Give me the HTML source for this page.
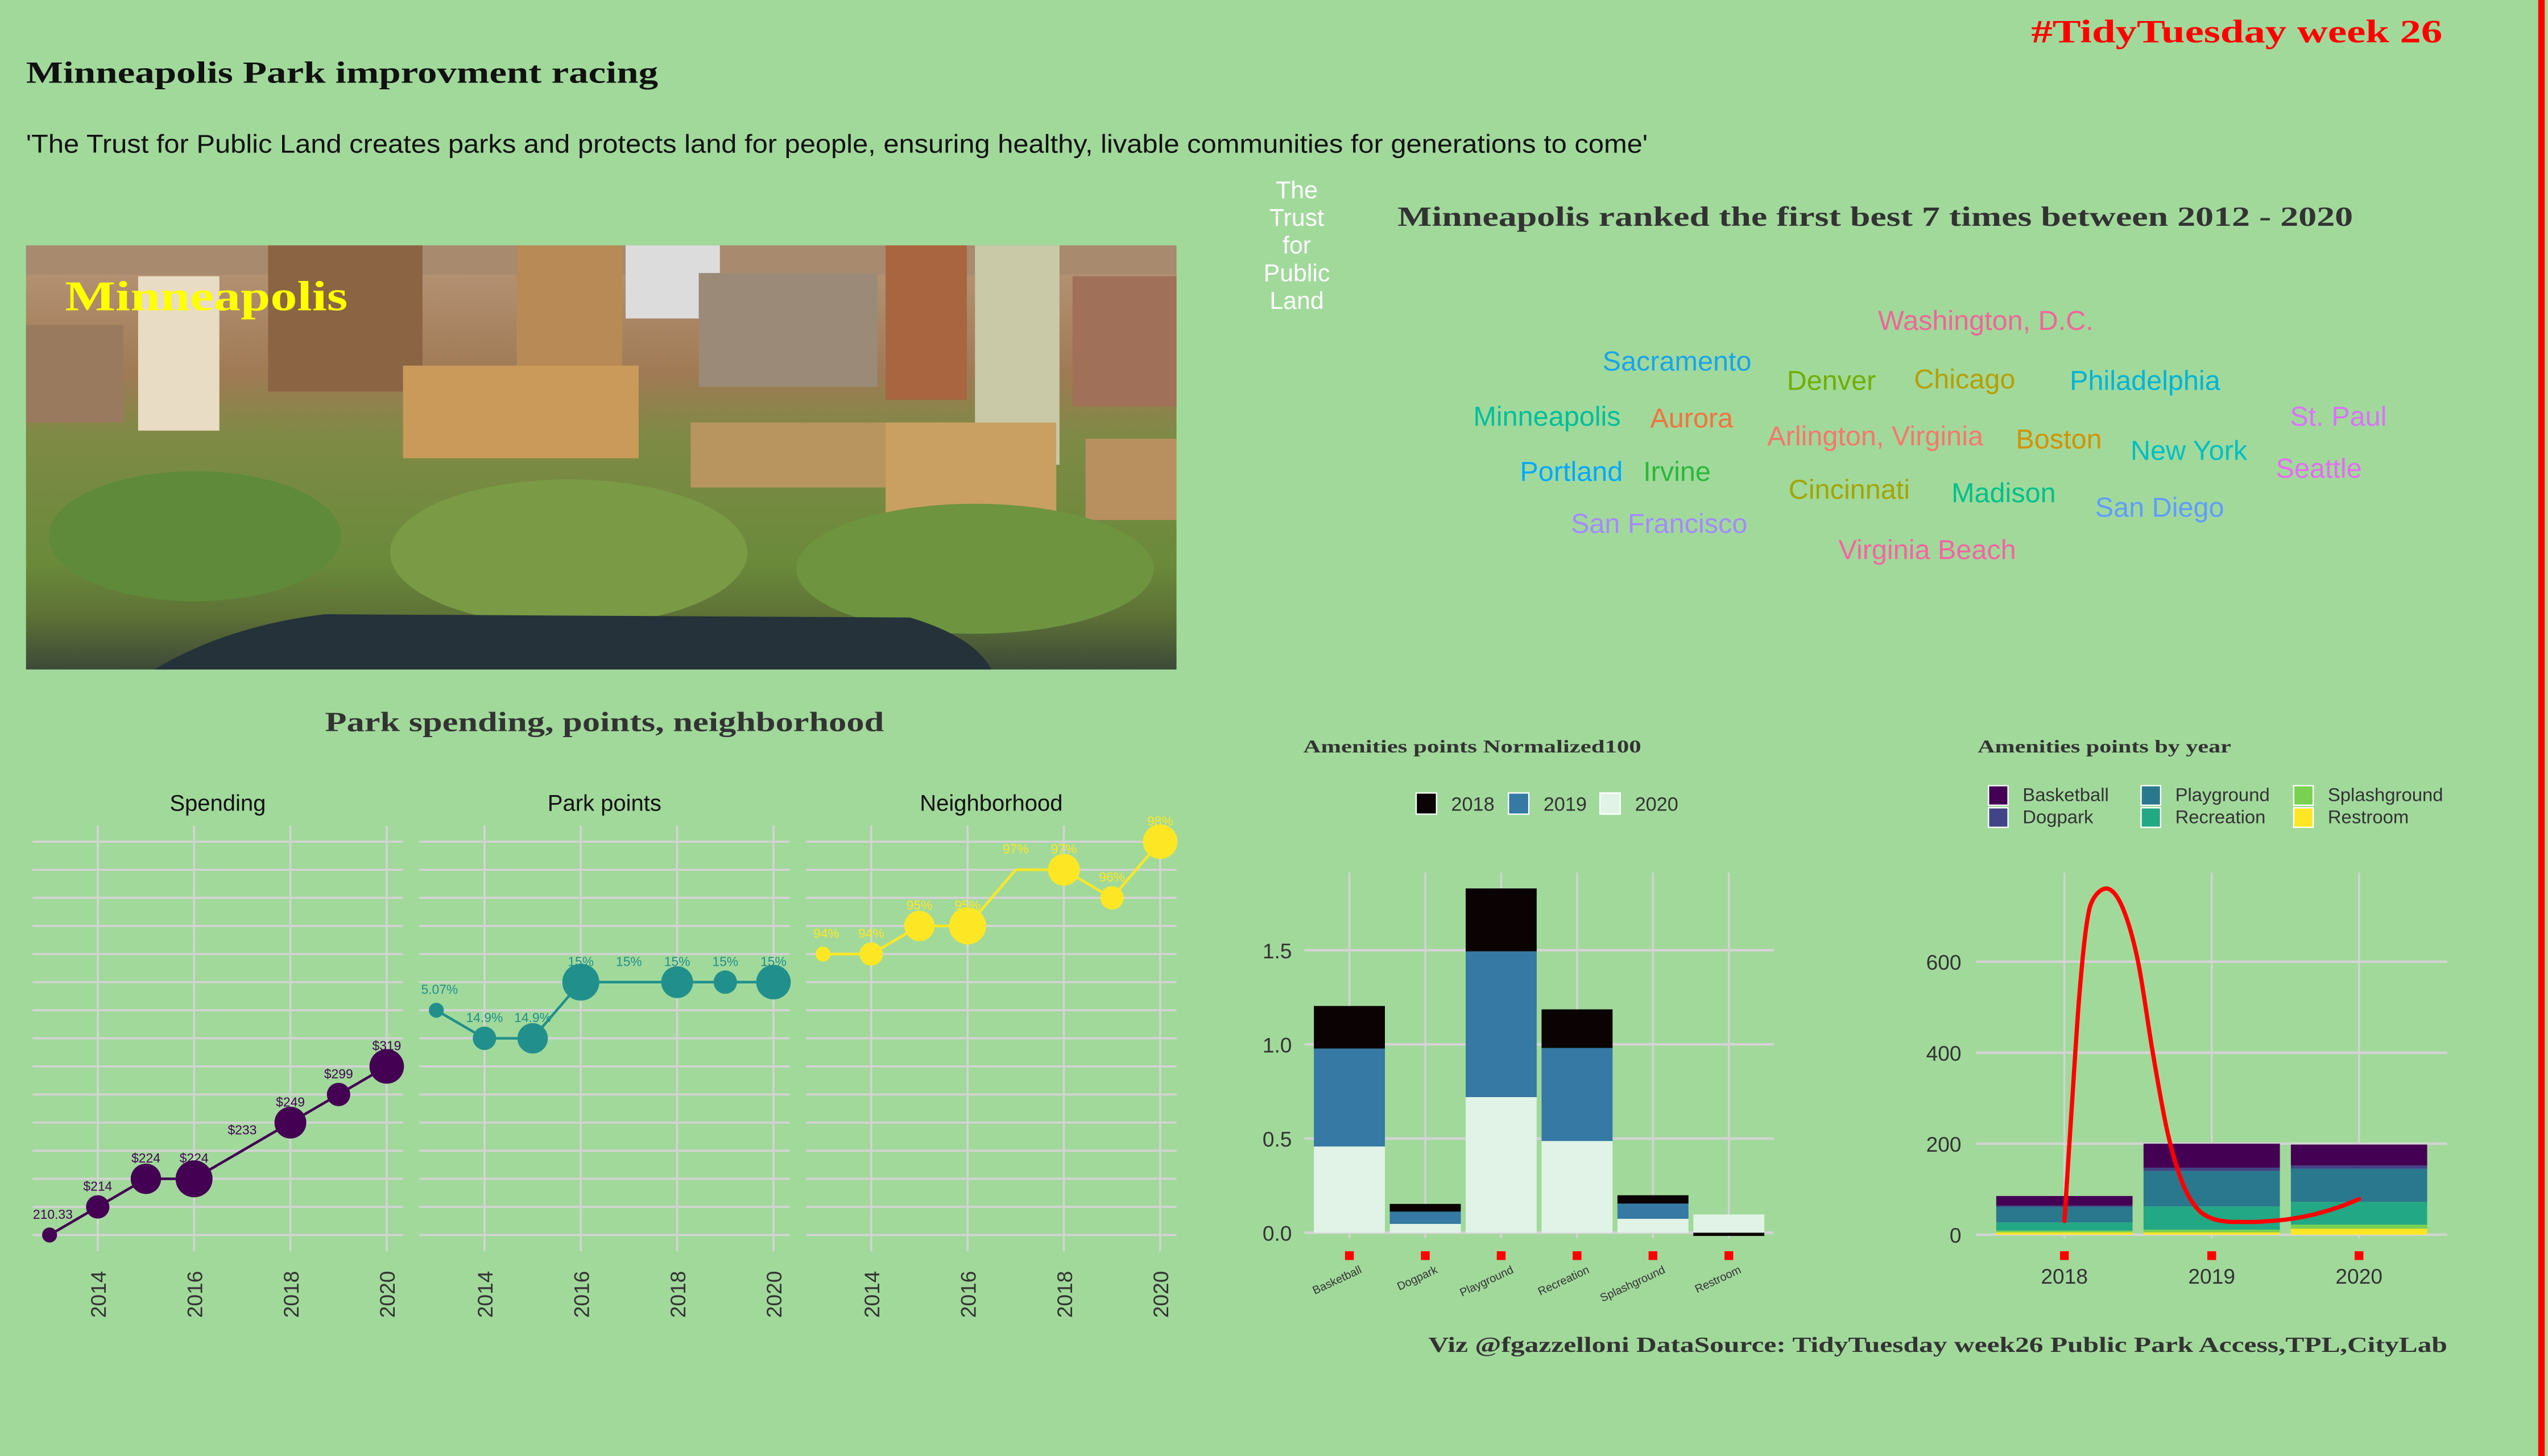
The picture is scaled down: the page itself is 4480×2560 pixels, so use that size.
<!DOCTYPE html>
<html><head><meta charset="utf-8">
<style>
html,body{margin:0;padding:0;background:#A1D99B;}
svg{display:block;}
.ser{font-family:"Liberation Serif",serif;font-weight:bold;}
.sans{font-family:"Liberation Sans",sans-serif;}
.nar{font-family:"Liberation Sans Narrow","Liberation Sans",sans-serif;}
</style></head>
<body>
<svg id="root" xmlns="http://www.w3.org/2000/svg" width="4480" height="2560" viewBox="0 0 1568 896">
<defs>
<linearGradient id="photoGrad" x1="0" y1="0" x2="0" y2="1">
<stop offset="0" stop-color="#b8977a"/><stop offset="0.3" stop-color="#a07a55"/>
<stop offset="0.45" stop-color="#7e8a45"/><stop offset="0.75" stop-color="#6a8a3a"/>
<stop offset="0.87" stop-color="#5e7236"/><stop offset="1" stop-color="#3d4a38"/>
</linearGradient>
</defs>
<rect x="0" y="0" width="1568" height="896" fill="#A1D99B"/>
<rect x="1562" y="0" width="4" height="896" fill="#FF0000"/>
<text class="ser" x="1250" y="26" textLength="253" lengthAdjust="spacingAndGlyphs" font-size="20" fill="#FF0000">#TidyTuesday week 26</text>
<text class="ser" x="16" y="51" textLength="389" lengthAdjust="spacingAndGlyphs" font-size="19" fill="#111">Minneapolis Park improvment racing</text>
<text class="sans" x="16" y="94" textLength="998" lengthAdjust="spacingAndGlyphs" font-size="16" fill="#111">'The Trust for Public Land creates parks and protects land for people, ensuring healthy, livable communities for generations to come'</text>

<g>
<rect x="16" y="151" width="708" height="261" fill="url(#photoGrad)"/>
<rect x="16" y="151" width="708" height="18" fill="#a88a6e"/>
<rect x="85" y="170" width="50" height="95" fill="#e8dcc4"/>
<rect x="165" y="151" width="95" height="90" fill="#8a6443"/>
<rect x="318" y="151" width="65" height="80" fill="#b88a55"/>
<rect x="385" y="151" width="58" height="45" fill="#dcdcdc"/>
<rect x="430" y="168" width="110" height="70" fill="#9c8a78"/>
<rect x="248" y="225" width="145" height="57" fill="#c99a5a"/>
<rect x="545" y="151" width="50" height="95" fill="#a8653f"/>
<rect x="600" y="151" width="52" height="135" fill="#c9c9a8"/>
<rect x="425" y="260" width="120" height="40" fill="#b8955e"/>
<rect x="545" y="260" width="105" height="60" fill="#c9a062"/>
<rect x="16" y="200" width="60" height="60" fill="#9a7a5e"/>
<rect x="660" y="170" width="64" height="80" fill="#a07058"/>
<rect x="668" y="270" width="56" height="50" fill="#b89060"/>
<ellipse cx="120" cy="330" rx="90" ry="40" fill="#5e8a3a"/>
<ellipse cx="350" cy="340" rx="110" ry="45" fill="#7a9a45"/>
<ellipse cx="600" cy="350" rx="110" ry="40" fill="#6e9440"/>
<path d="M95,412 Q140,385 200,378 L560,380 Q600,392 610,412 Z" fill="#25323a"/>
<text class="ser" x="40" y="191" textLength="174" lengthAdjust="spacingAndGlyphs" font-size="26" fill="#FFFF00">Minneapolis</text>
</g>

<g class="sans" font-size="15" fill="#fff" text-anchor="middle">
<text x="798" y="122">The</text><text x="798" y="139">Trust</text><text x="798" y="156">for</text><text x="798" y="173">Public</text><text x="798" y="190">Land</text>
</g>
<text class="ser" x="860" y="139" textLength="588" lengthAdjust="spacingAndGlyphs" font-size="17" fill="#333">Minneapolis ranked the first best 7 times between 2012 - 2020</text>
<g id="cloud"></g>

<text class="ser" x="200" y="450" textLength="344" lengthAdjust="spacingAndGlyphs" font-size="17" fill="#333">Park spending, points, neighborhood</text>
<g id="multi"></g>

<text class="ser" x="802" y="463" textLength="208" lengthAdjust="spacingAndGlyphs" font-size="11" fill="#333">Amenities points Normalized100</text>
<g id="bars"></g>

<text class="ser" x="1217" y="463" textLength="156" lengthAdjust="spacingAndGlyphs" font-size="11" fill="#333">Amenities points by year</text>
<g id="stack"></g>

<text class="ser" x="879" y="832" textLength="627" lengthAdjust="spacingAndGlyphs" font-size="13.5" fill="#333">Viz @fgazzelloni DataSource: TidyTuesday week26 Public Park Access,TPL,CityLab</text>
</svg>
<script>
// ---------- word cloud data ----------
const cloudWords = ["Washington, D.C.","Sacramento","Denver","Chicago","Philadelphia","Minneapolis","Aurora","Arlington, Virginia","Boston","New York","St. Paul","Portland","Irvine","Cincinnati","Madison","Seattle","San Diego","San Francisco","Virginia Beach"];
const cloudX = [1222,1032,1127,1209,1320,952,1041,1154,1267,1347,1439,967,1032,1138,1233,1427,1329,1021,1186];
const cloudY = [197,222,234,233,234,256,257,268,270,277,256,290,290,301,303,288,312,322,338];
const cloudColors = ["#F0659A","#1AA5E8","#6FAF00","#B79F00","#00B4D8","#00BE9C","#F2733E","#F8766D","#D39200","#00BFC4","#DB72FB","#00A9FF","#2CB73C","#A3A500","#00C08B","#E76BF3","#619CFF","#A58AFF","#F564A3"];

// ---------- small multiples data ----------
const years = [2013,2014,2015,2016,2017,2018,2019,2020];
const levels = ["210.33","$214","$224","$233","$249","$299","$319","14.9%","5.07%","15%","94%","95%","96%","97%","98%"];
const spending = ["210.33","$214","$224","$224","$233","$249","$299","$319"];
const parkPoints = ["5.07%","14.9%","14.9%","15%","15%","15%","15%","15%"];
const neighborhood = ["94%","94%","95%","95%","97%","97%","96%","98%"];
const pointSize = [1,4,8,13,0,9,4,11];
const panelTitles = ["Spending","Park points","Neighborhood"];
const yearTicks = [2014,2016,2018,2020];

// ---------- normalized bar data ----------
const amenities = ["Basketball","Dogpark","Playground","Recreation","Splashground","Restroom"];
const norm2018 = [0.226,0.041,0.334,0.205,0.044,-0.017];
const norm2019 = [0.52,0.065,0.774,0.494,0.081,0.0];
const norm2020 = [0.458,0.047,0.72,0.487,0.074,0.097];
const normTicks = [0,0.5,1.0,1.5];

// ---------- yearly stack data ----------
const stackYears = [2018,2019,2020];
const stackCats = ["Restroom","Splashground","Recreation","Playground","Dogpark","Basketball"];
const restroom = [5,5,13];
const splashground = [4,6,9];
const recreation = [18,51,50];
const playground = [34,78,73];
const dogpark = [3,7,7];
const basketball = [21,53,46];
const stackTicks = [0,200,400,600];
const curveX = [2018.0,2018.05,2018.1,2018.15,2018.2,2018.3,2018.4,2018.5,2018.6,2018.7,2018.8,2018.9,2019.0,2019.1,2019.2,2019.3,2019.4,2019.5,2019.6,2019.7,2019.8,2019.9,2020.0];
const curveY = [30,280,520,680,740,760,715,600,400,225,115,58,36,29,28,28,30,33,38,45,54,65,78];

const NS = "http://www.w3.org/2000/svg";
function mk(tag, attrs, parent){const e=document.createElementNS(NS,tag);for(const k in attrs)e.setAttribute(k,attrs[k]);parent.appendChild(e);return e;}

// word cloud
const cloud=document.getElementById('cloud');
cloudWords.forEach((w,i)=>{
  const t=mk('text',{x:cloudX[i],y:cloudY[i]+6,'text-anchor':'middle','font-size':17,fill:cloudColors[i],class:'sans'},cloud);
  
  
  t.textContent=w;
});

// small multiples
const multi=document.getElementById('multi');
const series=[spending,parkPoints,neighborhood];
const sColors=["#440154","#21908C","#FDE725"];
const gridStep=17.29;
function yLevel(lbl){return 760 - levels.indexOf(lbl)*gridStep;}
series.forEach((s,p)=>{
  const x0=p*238;
  const xs=y=>x0+30.5+(y-2013)*29.64;
  const g=mk('g',{},multi);
  
  
  const tt=mk('text',{x:x0+134,y:499,'text-anchor':'middle','font-size':14,fill:'#111',class:'sans'},g);
  
  
  tt.textContent=panelTitles[p];
  levels.forEach((l,i)=>{
    const ln=mk('line',{x1:x0+20,x2:x0+248,y1:760-i*gridStep,y2:760-i*gridStep,stroke:'#D3D3D3','stroke-width':1.3},g);
    
    
  });
  yearTicks.forEach(y=>{
    const ln=mk('line',{x1:xs(y),x2:xs(y),y1:508,y2:770,stroke:'#D3D3D3','stroke-width':1.3},g);
    
    
    const t=mk('text',{x:0,y:0,transform:`translate(${xs(y)+5},${811}) rotate(-90)`,'font-size':13,fill:'#333',class:'sans'},g);
    
    
    t.textContent=y;
  });
  const d=s.map((v,i)=>(i?'L':'M')+xs(years[i])+','+yLevel(v)).join(' ');
  const path=mk('path',{d:d,fill:'none',stroke:sColors[p],'stroke-width':1.6},g);
  
  
  s.forEach((v,i)=>{
    const cx=xs(years[i]), cy=yLevel(v);
    if(pointSize[i]>0){
      const c=mk('circle',{cx:cx,cy:cy,r:2+Math.sqrt(pointSize[i])*2.6,fill:sColors[p]},g);
      
      
    }
    const t=mk('text',{x:cx+(i===0?2:0),y:cy-10,'text-anchor':'middle','font-size':8,fill:sColors[p],class:'nar'},g);
    
    
    t.textContent=v;
  });
});

// normalized bars
const bars=document.getElementById('bars');
const bY=v=>758.6 - v*115.9;
const bX=i=>830.4+i*46.7;
const bw=43.7;
const legN=[["2018","#0A0203",871.5],["2019","#3579A4",928.3],["2020","#E0F3E6",984.6]];
legN.forEach(l=>{
  const r=mk('rect',{x:l[2],y:488,width:12.5,height:13,fill:l[1],stroke:'#fff','stroke-width':0.8},bars);
  
  
  const t=mk('text',{x:l[2]+21.5,y:499,'font-size':12,fill:'#333',class:'sans'},bars);
  
  
  t.textContent=l[0];
});
normTicks.forEach(v=>{
  const ln=mk('line',{x1:802.7,x2:1091.6,y1:bY(v),y2:bY(v),stroke:'#D3D3D3','stroke-width':1.6},bars);
  
  
  const t=mk('text',{x:795,y:bY(v)+5,'text-anchor':'end','font-size':13,fill:'#333',class:'sans'},bars);
  
  
  t.textContent=v.toFixed(1);
});
amenities.forEach((a,i)=>{
  const ln=mk('line',{x1:bX(i),x2:bX(i),y1:537,y2:762,stroke:'#D3D3D3','stroke-width':1.2},bars);
  
  
});
amenities.forEach((a,i)=>{
  let pos=0, neg=0;
  [[norm2020[i],"#E0F3E6"],[norm2019[i],"#3579A4"],[norm2018[i],"#0A0203"]].forEach(([v,c])=>{
    let y0,y1;
    if(v>=0){y0=pos;y1=pos+v;pos=y1;}else{y0=neg;y1=neg+v;neg=y1;}
    const r=mk('rect',{x:bX(i)-bw/2,y:bY(Math.max(y0,y1)),width:bw,height:Math.abs(bY(y0)-bY(y1)),fill:c},bars);
    
    
  });
  const m=mk('rect',{x:bX(i)-2.7,y:770,width:5.4,height:5.4,fill:'#FF0000'},bars);
  
  
  const t=mk('text',{x:0,y:0,transform:`translate(${bX(i)+8},${783}) rotate(-25)`,'text-anchor':'end','font-size':7,fill:'#333',class:'sans'},bars);
  
  
  t.textContent=a;
});

// yearly stack
const st=document.getElementById('stack');
const sY=v=>759.8 - v*0.28;
const sX=y=>1270.4+(y-2018)*90.65;
const sbw=83.9;
const catColors={Basketball:"#440154",Dogpark:"#414487",Playground:"#2A788E",Recreation:"#22A884",Splashground:"#7AD151",Restroom:"#FDE725"};
const legS=[["Basketball",1223.7,489],["Dogpark",1223.7,502.6],["Playground",1317.6,489],["Recreation",1317.6,502.6],["Splashground",1411.5,489],["Restroom",1411.5,502.6]];
legS.forEach(l=>{
  const r=mk('rect',{x:l[1],y:l[2]-5.5,width:12,height:12,fill:catColors[l[0]],stroke:'#fff','stroke-width':0.8},st);
  
  
  const t=mk('text',{x:l[1]+21,y:l[2]+4,'font-size':11.5,fill:'#333',class:'sans'},st);
  
  
  t.textContent=l[0];
});
stackTicks.forEach(v=>{
  const ln=mk('line',{x1:1216,x2:1506,y1:sY(v),y2:sY(v),stroke:'#D3D3D3','stroke-width':1.6},st);
  
  
  const t=mk('text',{x:1207,y:sY(v)+5,'text-anchor':'end','font-size':13,fill:'#333',class:'sans'},st);
  
  
  t.textContent=v;
});
stackYears.forEach(y=>{
  const ln=mk('line',{x1:sX(y),x2:sX(y),y1:537,y2:762,stroke:'#D3D3D3','stroke-width':1.2},st);
  
  
});
const stackVals={Restroom:restroom,Splashground:splashground,Recreation:recreation,Playground:playground,Dogpark:dogpark,Basketball:basketball};
stackYears.forEach((y,i)=>{
  let acc=0;
  stackCats.forEach(c=>{
    const v=stackVals[c][i];
    const r=mk('rect',{x:sX(y)-sbw/2,y:sY(acc+v),width:sbw,height:sY(acc)-sY(acc+v),fill:catColors[c]},st);
    
    
    acc+=v;
  });
  const m=mk('rect',{x:sX(y)-2.7,y:770,width:5.4,height:5.4,fill:'#FF0000'},st);
  
  
  const t=mk('text',{x:sX(y),y:790,'text-anchor':'middle','font-size':13,fill:'#333',class:'sans'},st);
  
  
  t.textContent=y;
});
const pts=curveX.map((x,i)=>[sX(x),sY(curveY[i])]);
let cd='M'+pts[0][0]+','+pts[0][1];
for(let i=0;i<pts.length-1;i++){
  const p0=pts[Math.max(0,i-1)],p1=pts[i],p2=pts[i+1],p3=pts[Math.min(pts.length-1,i+2)];
  const c1=[p1[0]+(p2[0]-p0[0])/6,p1[1]+(p2[1]-p0[1])/6];
  const c2=[p2[0]-(p3[0]-p1[0])/6,p2[1]-(p3[1]-p1[1])/6];
  cd+=` C${c1[0]},${c1[1]} ${c2[0]},${c2[1]} ${p2[0]},${p2[1]}`;
}
const cv=mk('path',{d:cd,fill:'none',stroke:'#FF0000','stroke-width':2.6,'stroke-linecap':'round'},st);


</script>
</body></html>
